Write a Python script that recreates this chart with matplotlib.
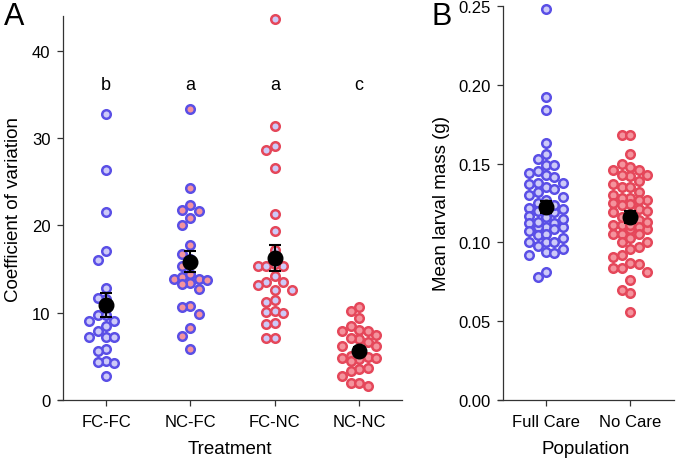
#!/usr/bin/env python3
"""Two-panel dot plot: CV by treatment (A) and mean larval mass by population (B)."""

import matplotlib.pyplot as plt
import numpy as np

plt.rcParams["font.family"] = ["Liberation Sans", "DejaVu Sans"]

# Panel A: coefficient of variation per treatment
TREATMENTS = ["FC-FC", "NC-FC", "FC-NC", "NC-NC"]
CV_FCFC = [32.8, 26.3, 21.5, 17.1, 16.0, 12.8, 11.6, 11.7, 9.7, 9.1, 9.7, 9.1,
           8.5, 7.9, 7.25, 7.25, 7.2, 5.8, 5.65, 4.5, 4.2, 4.4, 2.8]
CV_NCFC = [33.4, 24.3, 22.4, 21.8, 21.6, 20.8, 20.0, 17.8, 16.7, 16.1, 15.4,
           13.9, 13.9, 13.7, 14.1, 14.4, 12.7, 13.4, 13.3, 10.8, 9.85, 10.7,
           8.3, 7.3, 5.8]
CV_FCNC = [43.7, 31.4, 29.1, 28.7, 26.6, 21.3, 19.4, 17.2, 15.3, 15.3, 15.4,
           15.6, 14.2, 13.5, 13.55, 13.2, 12.6, 12.6, 11.45, 11.25, 10.15, 10.05,
           10.0, 8.8, 8.7, 7.15, 7.1]
CV_NCNC = [10.6, 10.2, 9.4, 8.5, 8.0, 7.9, 7.9, 7.5, 7.0, 7.05, 6.7, 6.2, 6.2,
           5.8, 5.0, 4.9, 4.8, 4.8, 4.7, 4.5, 3.7, 3.5, 3.3, 2.7, 2.0, 2.0, 1.6]
CV_MEANS = [10.9, 15.85, 16.25, 5.65]
CV_SEMS = [1.37, 1.2, 1.47, 0.45]
LETTERS = ["b", "a", "a", "c"]

# Panel B: mean larval mass per population
POPULATIONS = ["Full Care", "No Care"]
MASS_FULL = [0.248, 0.192, 0.184, 0.163, 0.156, 0.153, 0.149, 0.149, 0.145,
             0.144, 0.1425, 0.1415, 0.138, 0.138, 0.135, 0.137, 0.134, 0.132,
             0.130, 0.127, 0.129, 0.125, 0.122, 0.121, 0.121, 0.117, 0.119,
             0.116, 0.112, 0.110, 0.112, 0.110, 0.1085, 0.110, 0.103, 0.105,
             0.1055, 0.100, 0.100, 0.100, 0.0975, 0.094, 0.092, 0.0955, 0.093,
             0.078, 0.081, 0.120, 0.124, 0.115, 0.107, 0.113]
MASS_NO = [0.168, 0.168, 0.156, 0.150, 0.148, 0.146, 0.146, 0.142, 0.1425,
           0.143, 0.139, 0.135, 0.137, 0.135, 0.132, 0.130, 0.128, 0.127, 0.127,
           0.128, 0.125, 0.1245, 0.1235, 0.121, 0.119, 0.118, 0.111, 0.1085,
           0.111, 0.114, 0.1085, 0.111, 0.110, 0.1055, 0.1055, 0.1055, 0.100,
           0.097, 0.1005, 0.103, 0.096, 0.092, 0.091, 0.087, 0.086, 0.084,
           0.084, 0.081, 0.076, 0.068, 0.070, 0.056, 0.116, 0.120, 0.113]
MASS_MEANS = [0.1224, 0.1161]
MASS_SEMS = [0.004, 0.004]

BLUE = "#5a4fe6"
LAVENDER = "#cdcaf8"
RED = "#e5475a"
PINK = "#f4939d"


def swarm(values, px_per_unit, d=10.0, step=0.1):
    """Greedy column swarm: place each point in the first column it fits."""
    cols = [0, -1, 1, -2, 2]
    placed = {c: [] for c in cols}
    offs = np.zeros(len(values))
    for i in np.argsort(values)[::-1]:
        y = values[i] * px_per_unit
        best, best_gap = 0, -1.0
        for c in cols:
            gap = min([abs(y - p) for p in placed[c]], default=1e9)
            if gap >= d:
                best = c
                break
            if gap > best_gap:
                best, best_gap = c, gap
        placed[best].append(y)
        offs[i] = best * step
    return offs


def style_axes(ax):
    ax.spines["top"].set_visible(False)
    ax.spines["right"].set_visible(False)
    ax.spines["left"].set_position(("data", 0.49))
    for s in ("left", "bottom"):
        ax.spines[s].set_linewidth(0.9)
        ax.spines[s].set_color("#333333")
    ax.tick_params(direction="out", length=4, width=0.9, color="#333333",
                   labelsize=12)
    ax.tick_params(axis="x", pad=6)
    ax.tick_params(axis="y", pad=5)


def draw_group(ax, x, vals, px_per_unit, edge, face):
    vals = np.asarray(vals)
    offs = swarm(vals, px_per_unit)
    ax.scatter(x + offs, vals, s=38, facecolor=face, edgecolor=edge,
               linewidth=1.8, zorder=2, clip_on=False)


fig = plt.figure(figsize=(6.77, 4.60), dpi=100)
W, H = 677, 460

# ---- Panel A ----
axA = fig.add_axes([58 / W, (H - 401) / H, (402 - 58) / W, (401 - 17) / H])
cv_groups = [CV_FCFC, CV_NCFC, CV_FCNC, CV_NCNC]
cv_colors = [(BLUE, LAVENDER), (BLUE, PINK), (RED, LAVENDER), (RED, PINK)]
px_a = 384 / 44
for i, (vals, (edge, face)) in enumerate(zip(cv_groups, cv_colors)):
    draw_group(axA, i + 1, vals, px_a, edge, face)
axA.errorbar(np.arange(1, 5), CV_MEANS, yerr=CV_SEMS, fmt="o", color="black",
             ms=10.5, capsize=4.5, elinewidth=1.5, capthick=1.5, zorder=3)
for i, letter in enumerate(LETTERS):
    axA.text(i + 1, 36.2, letter, ha="center", va="center", fontsize=13)
axA.set_xlim(0.431, 4.507)
axA.set_ylim(0, 44)
axA.set_xticks(np.arange(1, 5))
axA.set_xticklabels(TREATMENTS)
axA.set_yticks(np.arange(0, 41, 10))
axA.set_xlabel("Treatment", fontsize=13.5, labelpad=8)
axA.set_ylabel("Coefficient of variation", fontsize=13.5, labelpad=7)
style_axes(axA)

# ---- Panel B ----
axB = fig.add_axes([498 / W, (H - 401) / H, (674 - 498) / W, (401 - 7) / H])
px_b = 394 / 0.25
draw_group(axB, 1, MASS_FULL, px_b, BLUE, LAVENDER)
draw_group(axB, 2, MASS_NO, px_b, RED, PINK)
axB.errorbar([1, 2], MASS_MEANS, yerr=MASS_SEMS, fmt="o", color="black",
             ms=10.5, capsize=4.5, elinewidth=1.5, capthick=1.5, zorder=3)
axB.set_xlim(0.43, 2.52)
axB.set_ylim(0, 0.25)
axB.set_xticks([1, 2])
axB.set_xticklabels(POPULATIONS)
axB.set_yticks(np.arange(0, 0.251, 0.05))
axB.yaxis.set_major_formatter(plt.FormatStrFormatter("%.2f"))
axB.set_xlabel("Population", fontsize=13.5, labelpad=8)
axB.set_ylabel("Mean larval mass (g)", fontsize=13.5, labelpad=6)
style_axes(axB)

fig.text(14 / W, 1 - 17 / H, "A", fontsize=22, ha="center", va="center")
fig.text(442 / W, 1 - 17 / H, "B", fontsize=22, ha="center", va="center")

fig.savefig("out.png", dpi=100, facecolor="white")
